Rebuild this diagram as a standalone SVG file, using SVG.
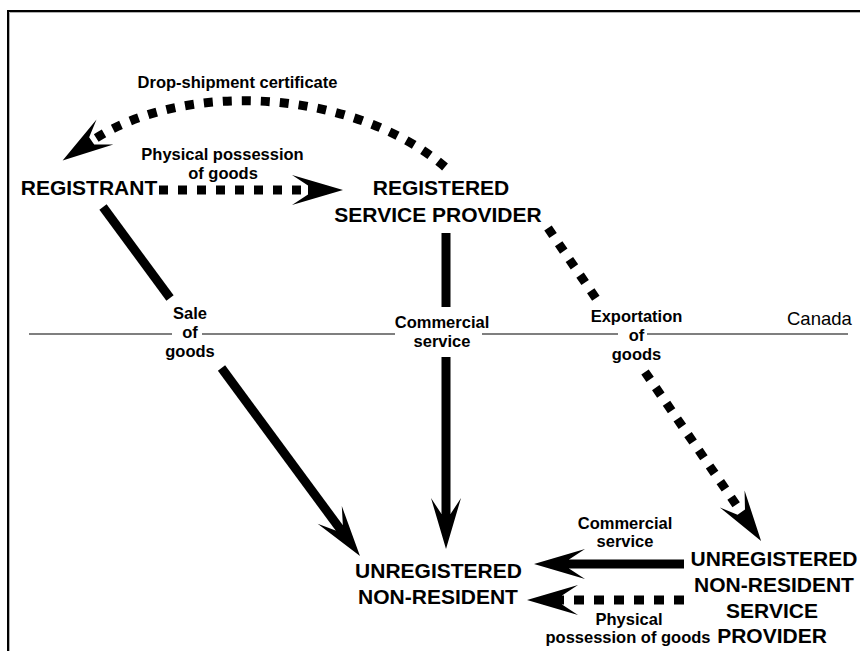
<svg xmlns="http://www.w3.org/2000/svg" width="860" height="651" viewBox="0 0 860 651">
<defs>
<style>
.node{font-family:"Liberation Sans",Arial,sans-serif;font-weight:bold;font-size:21px;fill:#000;text-anchor:middle}
.lbl{font-family:"Liberation Sans",Arial,sans-serif;font-weight:bold;font-size:16.5px;fill:#000;text-anchor:middle}
.solid{fill:none;stroke:#000;stroke-width:9}
.dash{fill:none;stroke:#000;stroke-width:9;stroke-dasharray:9 10}
.border{fill:none;stroke:#000;stroke-width:2}
.canada{stroke:#7f7f7f;stroke-width:2;fill:none}
</style>
<marker id="ah" markerUnits="userSpaceOnUse" markerWidth="60" markerHeight="40" viewBox="-20 -20 60 40" refX="0" refY="0" orient="auto" overflow="visible">
<path d="M33,0 L-18,-15 L-2,-4.5 L-2,4.5 L-18,15 Z" fill="#000"/>
</marker>
</defs>
<rect width="860" height="651" fill="#fff"/>
<path d="M9.5,651 V12.5 H860" fill="none" stroke="#b0b0b0" stroke-width="1"/>
<path class="border" d="M8,651 V11 H860"/>

<g id="canada-line">
<path class="canada" d="M29,334 H172 M202,334 H395 M482,334 H618 M647,334 H848"/>
<text x="787" y="325" font-family="Liberation Sans,Arial,sans-serif" font-size="18.5" fill="#000">Canada</text>
</g>

<g id="connectors">
<path class="dash" d="M445,167 C355,90 185,78 90,142" marker-end="url(#ah)"/>
<path class="dash" d="M159,190 H310" marker-end="url(#ah)"/>
<path class="solid" d="M103,207 L170,298"/>
<path class="solid" d="M221.5,368 L340.4,529.4" marker-end="url(#ah)"/>
<path class="solid" d="M446,233 V307"/>
<path class="solid" d="M446,357 V516" marker-end="url(#ah)"/>
<path class="dash" d="M548,228 L597,300"/>
<path class="dash" d="M645,372 L742.4,513.8" marker-end="url(#ah)"/>
<path class="solid" d="M684,564 H567" marker-end="url(#ah)"/>
<path class="dash" style="stroke-dasharray:10 10" d="M684,600 H560" marker-end="url(#ah)"/>
<g id="connector-labels">
<text class="lbl" x="237.5" y="88">Drop-shipment certificate</text>
<text class="lbl" x="222.5" y="160">Physical possession</text>
<text class="lbl" x="223" y="179">of goods</text>
<text class="lbl" x="190" y="319">Sale</text>
<text class="lbl" x="190" y="338">of</text>
<text class="lbl" x="190" y="357">goods</text>
<text class="lbl" x="442" y="328">Commercial</text>
<text class="lbl" x="442" y="347">service</text>
<text class="lbl" x="636.5" y="322">Exportation</text>
<text class="lbl" x="636.5" y="341">of</text>
<text class="lbl" x="636.5" y="360">goods</text>
<text class="lbl" x="625" y="529">Commercial</text>
<text class="lbl" x="625" y="547">service</text>
<text class="lbl" x="629" y="625">Physical</text>
<text class="lbl" x="628" y="643">possession of goods</text>
</g>
</g>

<g id="registrant">
<text class="node" x="89" y="195">REGISTRANT</text>
</g>
<g id="registered-service-provider">
<text class="node" x="441" y="195">REGISTERED</text>
<text class="node" x="438" y="222">SERVICE PROVIDER</text>
</g>
<g id="unregistered-non-resident">
<text class="node" x="438.5" y="578">UNREGISTERED</text>
<text class="node" x="438" y="604">NON-RESIDENT</text>
</g>
<g id="unregistered-non-resident-service-provider">
<text class="node" x="774" y="566">UNREGISTERED</text>
<text class="node" x="774" y="592">NON-RESIDENT</text>
<text class="node" x="772" y="618">SERVICE</text>
<text class="node" x="772" y="643">PROVIDER</text>
</g>
</svg>
